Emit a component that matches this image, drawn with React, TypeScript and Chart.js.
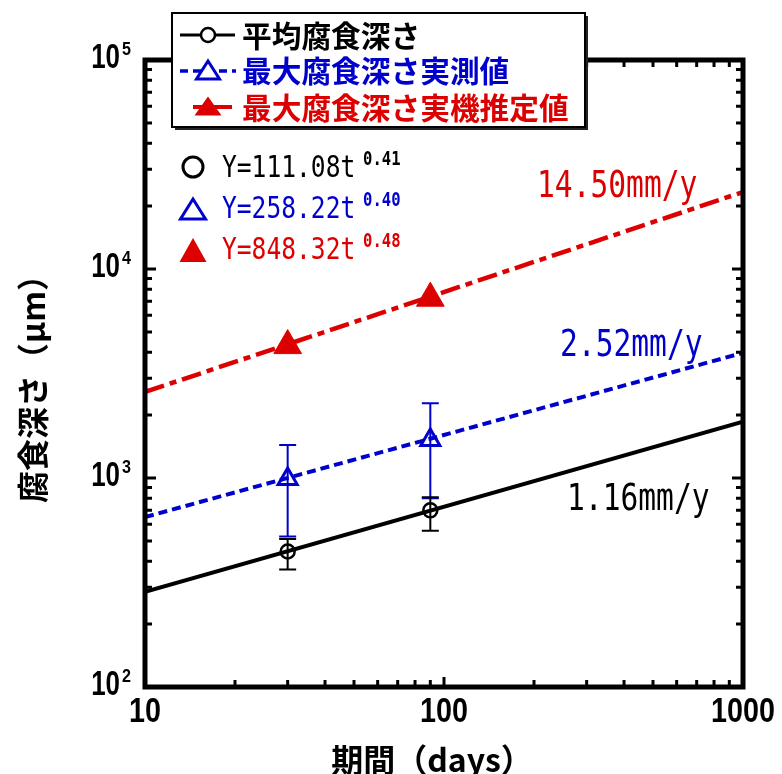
import React, { useEffect, useRef } from 'react';
import { Chart, registerables } from 'chart.js';

Chart.register(...registerables);

// ---- data ----
const days = [30, 90];
const avgDepth = [445, 700];
const avgHigh = [510, 810];
const avgLow = [365, 560];
const maxDepth = [990, 1520];
const maxHigh = [1440, 2280];
const maxLow = [525, 800];
const estDepth = [4300, 7250];

const fitDays = [10, 1000];
const fitAvg = [285, 1860];
const fitMax = [650, 3970];
const fitEst = [2580, 23350];

const xTickValues = [10, 100, 1000];
const xTickLabels = ['10', '100', '1000'];
const yTickExps = [2, 3, 4, 5];

const legendLabels = ['平均腐食深さ', '最大腐食深さ実測値', '最大腐食深さ実機推定値'];
const eqBase = ['Y=111.08t', 'Y=258.22t', 'Y=848.32t'];
const eqExp = ['0.41', '0.40', '0.48'];
const rateLabels = ['1.16mm/y', '2.52mm/y', '14.50mm/y'];
const xTitle = '期間（days）';
const yTitle = '腐食深さ（μm）';

const BLACK = '#000000';
const BLUE = '#0000cc';
const RED = '#dd0000';

function txt(ctx: CanvasRenderingContext2D, s: string, x: number, y: number, font: string, color: string, sx: number, align: CanvasTextAlign, base: CanvasTextBaseline = 'alphabetic') {
  ctx.save();
  ctx.translate(x, y);
  ctx.scale(sx, 1);
  ctx.font = font;
  ctx.fillStyle = color;
  ctx.textAlign = align;
  ctx.textBaseline = base;
  ctx.fillText(s, 0, 0);
  ctx.restore();
}

function tri(ctx: CanvasRenderingContext2D, cx: number, cy: number, w: number, h: number, fill: string | null, stroke: string | null, lw: number) {
  ctx.save();
  ctx.beginPath();
  ctx.moveTo(cx, cy - h / 2);
  ctx.lineTo(cx - w / 2, cy + h / 2);
  ctx.lineTo(cx + w / 2, cy + h / 2);
  ctx.closePath();
  if (fill) { ctx.fillStyle = fill; ctx.fill(); }
  if (stroke) { ctx.strokeStyle = stroke; ctx.lineWidth = lw; ctx.lineJoin = 'miter'; ctx.stroke(); }
  ctx.restore();
}

function circ(ctx: CanvasRenderingContext2D, cx: number, cy: number, r: number, color: string, lw: number) {
  ctx.save();
  ctx.beginPath();
  ctx.arc(cx, cy, r, 0, Math.PI * 2);
  ctx.strokeStyle = color;
  ctx.lineWidth = lw;
  ctx.stroke();
  ctx.restore();
}

const decorPlugin = {
  id: 'decor',
  beforeDatasetsDraw(chart: any) {
    const ctx = chart.ctx as CanvasRenderingContext2D;
    const xs = chart.scales.x;
    const ys = chart.scales.y;
    const bars = (lo: number[], hi: number[], color: string) => {
      ctx.save();
      ctx.strokeStyle = color;
      ctx.lineWidth = 2;
      for (let i = 0; i < days.length; i++) {
        const px = xs.getPixelForValue(days[i]);
        const yl = ys.getPixelForValue(lo[i]);
        const yh = ys.getPixelForValue(hi[i]);
        ctx.beginPath();
        ctx.moveTo(px, yl); ctx.lineTo(px, yh);
        ctx.moveTo(px - 8.5, yl); ctx.lineTo(px + 8.5, yl);
        ctx.moveTo(px - 8.5, yh); ctx.lineTo(px + 8.5, yh);
        ctx.stroke();
      }
      ctx.restore();
    };
    bars(maxLow, maxHigh, BLUE);
    bars(avgLow, avgHigh, BLACK);
  },
  afterDraw(chart: any) {
    const ctx = chart.ctx as CanvasRenderingContext2D;
    const xs = chart.scales.x;
    const ys = chart.scales.y;
    const { left, right, top, bottom } = chart.chartArea;

    // ticks
    ctx.save();
    ctx.strokeStyle = BLACK;
    ctx.lineWidth = 3;
    ctx.beginPath();
    for (let e = 2; e <= 4; e++) {
      for (let m = 1; m <= 9; m++) {
        const v = m * Math.pow(10, e);
        const py = ys.getPixelForValue(v);
        const len = m === 1 ? 11 : 7;
        ctx.moveTo(left, py); ctx.lineTo(left + len, py);
        ctx.moveTo(right, py); ctx.lineTo(right - len, py);
      }
    }
    for (let e = 1; e <= 2; e++) {
      for (let m = 1; m <= 9; m++) {
        const v = m * Math.pow(10, e);
        const px = xs.getPixelForValue(v);
        const len = m === 1 ? 10 : 7;
        ctx.moveTo(px, bottom); ctx.lineTo(px, bottom - len);
        ctx.moveTo(px, top); ctx.lineTo(px, top + len);
      }
    }
    ctx.stroke();
    // frame
    ctx.lineWidth = 5;
    ctx.strokeRect(left, top, right - left, bottom - top);
    ctx.restore();

    // y tick labels
    for (const e of yTickExps) {
      const py = ys.getPixelForValue(Math.pow(10, e));
      txt(ctx, '10', 120, py + 8, 'bold 35px "Liberation Sans"', BLACK, 0.74, 'right');
      txt(ctx, String(e), 122, py - 5, 'bold 19px "Liberation Sans"', BLACK, 0.85, 'left');
    }
    // x tick labels
    xTickValues.forEach((v, i) => {
      const px = xs.getPixelForValue(v);
      txt(ctx, xTickLabels[i], px, 722, 'bold 35px "Liberation Sans"', BLACK, 0.82, 'center');
    });

    // axis titles
    txt(ctx, xTitle, 432, 760, 'bold 32px "Noto Sans CJK JP"', BLACK, 1, 'center', 'middle');
    ctx.save();
    ctx.translate(33, 381);
    ctx.rotate(-Math.PI / 2);
    ctx.font = 'bold 32px "Noto Sans CJK JP"';
    ctx.fillStyle = BLACK;
    ctx.textAlign = 'center';
    ctx.textBaseline = 'middle';
    ctx.fillText(yTitle, 0, 0);
    ctx.restore();

    // rate labels
    const mono = '"DejaVu Sans Mono"';
    txt(ctx, rateLabels[2], 537, 197, `37px ${mono}`, RED, 0.8, 'left');
    txt(ctx, rateLabels[1], 560, 356, `37px ${mono}`, BLUE, 0.8, 'left');
    txt(ctx, rateLabels[0], 567, 510, `37px ${mono}`, BLACK, 0.8, 'left');

    // equations
    const eqColors = [BLACK, BLUE, RED];
    const eqBaselines = [177, 218, 259];
    eqBase.forEach((s, i) => {
      txt(ctx, s, 222, eqBaselines[i], `30px ${mono}`, eqColors[i], 0.82, 'left');
      txt(ctx, eqExp[i], 363, eqBaselines[i] - 12, `bold 19px ${mono}`, eqColors[i], 0.82, 'left');
    });
    circ(ctx, 193, 167, 10, BLACK, 3);
    tri(ctx, 193, 209, 25, 20, null, BLUE, 3);
    tri(ctx, 193, 250, 27, 24, RED, null, 0);

    // legend box
    ctx.save();
    ctx.fillStyle = '#222222';
    ctx.fillRect(175, 16, 413, 114);
    ctx.fillStyle = '#ffffff';
    ctx.fillRect(172, 13, 413, 114);
    ctx.strokeStyle = BLACK;
    ctx.lineWidth = 2;
    ctx.strokeRect(172, 13, 413, 114);
    ctx.restore();

    // legend samples
    ctx.save();
    ctx.lineWidth = 3;
    ctx.strokeStyle = BLACK;
    ctx.beginPath(); ctx.moveTo(180, 35); ctx.lineTo(235, 35); ctx.stroke();
    ctx.restore();
    ctx.save();
    ctx.beginPath();
    ctx.arc(208, 35, 7, 0, Math.PI * 2);
    ctx.fillStyle = '#fff';
    ctx.fill();
    ctx.restore();
    circ(ctx, 208, 35, 7, BLACK, 2.5);

    ctx.save();
    ctx.lineWidth = 3.5;
    ctx.strokeStyle = BLUE;
    ctx.setLineDash([8, 5]);
    ctx.beginPath(); ctx.moveTo(180, 71); ctx.lineTo(236, 71); ctx.stroke();
    ctx.restore();
    tri(ctx, 208, 70, 23, 18, '#ffffff', BLUE, 3);

    ctx.save();
    ctx.lineWidth = 4;
    ctx.strokeStyle = RED;
    ctx.beginPath(); ctx.moveTo(193, 107); ctx.lineTo(232, 107); ctx.stroke();
    ctx.restore();
    tri(ctx, 208, 106, 27, 19, RED, null, 0);

    const lcol = [BLACK, BLUE, RED];
    const ly = [36, 71, 108];
    legendLabels.forEach((s, i) => {
      txt(ctx, s, 242, ly[i], 'bold 30px "Noto Sans CJK JP"', lcol[i], 0.99, 'left', 'middle');
    });
  },
};

export default function App() {
  const ref = useRef<HTMLCanvasElement | null>(null);
  useEffect(() => {
    if (!ref.current) return;
    const pts = (xsArr: number[], ysArr: number[]) => xsArr.map((x, i) => ({ x, y: ysArr[i] }));
    const chart = new Chart(ref.current, {
      type: 'line',
      data: {
        datasets: [
          {
            label: '平均腐食深さ',
            data: pts(days, avgDepth),
            showLine: false,
            pointStyle: 'circle',
            pointRadius: 7,
            pointBorderWidth: 2.5,
            pointBorderColor: BLACK,
            pointBackgroundColor: 'rgba(0,0,0,0)',
          },
          {
            label: '最大腐食深さ実測値',
            data: pts(days, maxDepth),
            showLine: false,
            pointStyle: 'triangle',
            pointRadius: 11,
            pointBorderWidth: 3,
            pointBorderColor: BLUE,
            pointBackgroundColor: 'rgba(0,0,0,0)',
          },
          {
            label: '最大腐食深さ実機推定値',
            data: pts(days, estDepth),
            showLine: false,
            pointStyle: 'triangle',
            pointRadius: 16,
            pointBorderWidth: 1,
            pointBorderColor: RED,
            pointBackgroundColor: RED,
          },
          {
            label: 'fit avg',
            data: pts(fitDays, fitAvg),
            borderColor: BLACK,
            borderWidth: 4,
            pointRadius: 0,
            fill: false,
          },
          {
            label: 'fit max',
            data: pts(fitDays, fitMax),
            borderColor: BLUE,
            borderWidth: 4,
            borderDash: [9, 5],
            pointRadius: 0,
            fill: false,
          },
          {
            label: 'fit est',
            data: pts(fitDays, fitEst),
            borderColor: RED,
            borderWidth: 4.5,
            borderDash: [20, 6, 7, 6],
            pointRadius: 0,
            fill: false,
          },
        ],
      },
      options: {
        responsive: false,
        animation: false,
        events: [],
        layout: { padding: { left: 145, right: 39, top: 60, bottom: 87 } },
        scales: {
          x: { type: 'logarithmic', min: 10, max: 1000, display: false },
          y: { type: 'logarithmic', min: 100, max: 100000, display: false },
        },
        plugins: { legend: { display: false }, tooltip: { enabled: false } },
      },
      plugins: [decorPlugin],
    } as any);
    return () => chart.destroy();
  }, []);
  return (
    <div style={{ position: 'fixed', left: 0, top: 0, width: 782, height: 774, background: '#fff' }}>
      <canvas ref={ref} width={782} height={774} style={{ display: 'block' }} />
    </div>
  );
}
